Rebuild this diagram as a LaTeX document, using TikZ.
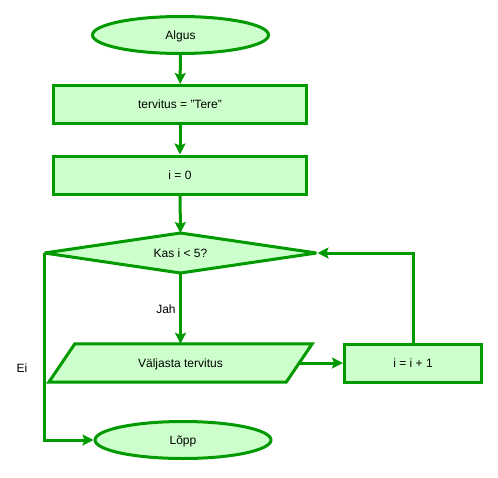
\documentclass[tikz,border=0pt]{standalone}
\usepackage{fontspec}
\setmainfont{Liberation Sans}
\usetikzlibrary{arrows.meta,shapes.geometric,backgrounds}
\definecolor{joon}{RGB}{0,153,0}
\definecolor{taust}{RGB}{204,255,204}

\begin{document}
\begin{tikzpicture}[x=1pt,y=-1pt,
    font=\fontsize{12}{14}\selectfont,
    kast/.style={draw=joon, line width=3pt, fill=taust, inner sep=0pt,
      text height=8.6pt, text depth=0pt},
    otsad/.style={kast, ellipse, minimum width=176pt, minimum height=37pt},
    protsess/.style={kast, rectangle, minimum width=253pt, minimum height=38pt},
    otsus/.style={kast, diamond, aspect=6.6, outer sep=0pt, line join=bevel,
      minimum width=272pt, minimum height=40pt},
    valjund/.style={inner sep=0pt, text height=8.6pt, text depth=0pt,
      minimum width=237pt, minimum height=38pt},
    silt/.style={inner sep=0pt, text height=8.6pt, text depth=0pt},
    nool/.style={draw=joon, line width=3pt, -{Stealth[length=11pt,width=11pt,inset=2pt]}}]

  % frame of the picture
  \useasboundingbox (0,0) rectangle (498,477);

  % Start and the two assignments
  \node[otsad] (algus) at (180.5,35) {Algus};
  \node[protsess] (tere) at (180,104.5) {tervitus = "Tere"};
  \node[protsess] (null) at (180,175) {i = 0};

  % Loop test
  \node[otsus] (kas) at (180.5,253) {Kas i < 5?};

  % Loop body (output box is a parallelogram drawn behind the node)
  \node[valjund] (valja) at (180.5,363) {Väljasta tervitus};
  \begin{scope}[on background layer]
    \draw[kast, line join=miter] ([xshift=-13pt]valja.south west) -- ([xshift=13pt]valja.north west)
      -- ([xshift=13pt]valja.north east) -- ([xshift=-13pt]valja.south east) -- cycle;
  \end{scope}
  \node[protsess, minimum width=137pt] (suurenda) at (413,363) {i = i + 1};

  % End
  \node[otsad] (lopp) at (183,440) {Lõpp};

  % Straight arrows
  \draw[nool] (algus) -- (tere);
  \draw[nool] (tere) -- (null);
  \draw[nool] (null) -- (kas);
  \draw[nool] (kas) -- (valja);
  \draw[nool] (valja.east) -- (suurenda.west);

  % Back to the test, and out of the loop
  \draw[nool] (suurenda.north) |- ([xshift=1pt]kas.east);
  \draw[nool] (kas.west) |- (lopp.west);

  % Branch labels
  \node[silt] (jah) at (166,309) {Jah};
  \node[silt] (ei) at (22,368) {Ei};

\end{tikzpicture}
\end{document}
